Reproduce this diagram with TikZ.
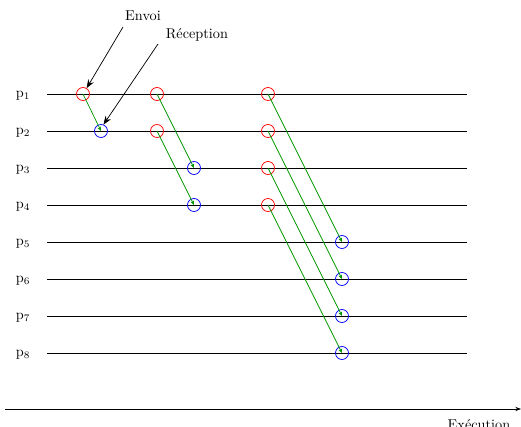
\documentclass[tikz,border=0pt]{standalone}
\usepackage{tikz}
\usetikzlibrary{arrows.meta}
\definecolor{msggreen}{RGB}{0,150,0}
\tikzstyle{proc}=[black, line width=0.6pt]
\tikzstyle{label}=[inner sep=0pt]
\tikzstyle{send}=[circle, draw=red, line width=0.5pt, minimum size=9.1pt, inner sep=0pt]
\tikzstyle{recv}=[circle, draw=blue, line width=0.5pt, minimum size=9.1pt, inner sep=0pt]
\tikzstyle{msg}=[msggreen, line width=0.5pt, -{Stealth[length=3pt,width=2.5pt]}]
\tikzstyle{pointer}=[black, line width=0.5pt, -{Stealth[length=6pt,width=4.5pt]}]

\begin{document}
\begin{tikzpicture}[x=0.7pt, y=-0.7pt]
				\useasboundingbox (0,0) rectangle (521,427);
				% processus
				\node[label] (p1) at (23,96) {$\mathrm{p}_1$};
				\node[label] (p2) at (23,133) {$\mathrm{p}_2$};
				\node[label] (p3) at (23,170) {$\mathrm{p}_3$};
				\node[label] (p4) at (23,207) {$\mathrm{p}_4$};
				\node[label] (p5) at (23,244) {$\mathrm{p}_5$};
				\node[label] (p6) at (23,281) {$\mathrm{p}_6$};
				\node[label] (p7) at (23,318) {$\mathrm{p}_7$};
				\node[label] (p8) at (23,355) {$\mathrm{p}_8$};
				\draw[proc] (47,94) -- (467,94);
				\draw[proc] (47,131) -- (467,131);
				\draw[proc] (47,168) -- (467,168);
				\draw[proc] (47,205) -- (467,205);
				\draw[proc] (47,242) -- (467,242);
				\draw[proc] (47,279) -- (467,279);
				\draw[proc] (47,316) -- (467,316);
				\draw[proc] (47,353) -- (467,353);
				% envois
				\node[send] (s1) at (83,94) {};
				\node[send] (s2) at (157,94) {};
				\node[send] (s3) at (157,131) {};
				\node[send] (s4) at (268,94) {};
				\node[send] (s5) at (268,131) {};
				\node[send] (s6) at (268,168) {};
				\node[send] (s7) at (268,205) {};
				% receptions
				\node[recv] (r1) at (101,131) {};
				\node[recv] (r2) at (194,168) {};
				\node[recv] (r3) at (194,205) {};
				\node[recv] (r4) at (342,242) {};
				\node[recv] (r5) at (342,279) {};
				\node[recv] (r6) at (342,316) {};
				\node[recv] (r7) at (342,353) {};
				% messages
				\draw[msg] (s1.center) -- (r1.center);
				\draw[msg] (s2.center) -- (r2.center);
				\draw[msg] (s3.center) -- (r3.center);
				\draw[msg] (s4.center) -- (r4.center);
				\draw[msg] (s5.center) -- (r5.center);
				\draw[msg] (s6.center) -- (r6.center);
				\draw[msg] (s7.center) -- (r7.center);
				% legende
				\node[anchor=base] (envoi) at (143,21) {Envoi};
				\node[anchor=base] (reception) at (197,39) {R\'eception};
				\coordinate (envoi-from) at (123,27);
				\coordinate (reception-from) at (158,44);
				\draw[pointer] (envoi-from) -- (s1.58);
				\draw[pointer] (reception-from) -- (r1.69);
				% temps
				\coordinate (t0) at (5,409);
				\coordinate (t1) at (521,409);
				\draw[black, line width=0.6pt, -{Stealth[length=4pt,width=3pt]}] (t0) -- (t1);
				\node[anchor=base] (execution) at (479,430) {Ex\'ecution};
			\end{tikzpicture}
\end{document}
